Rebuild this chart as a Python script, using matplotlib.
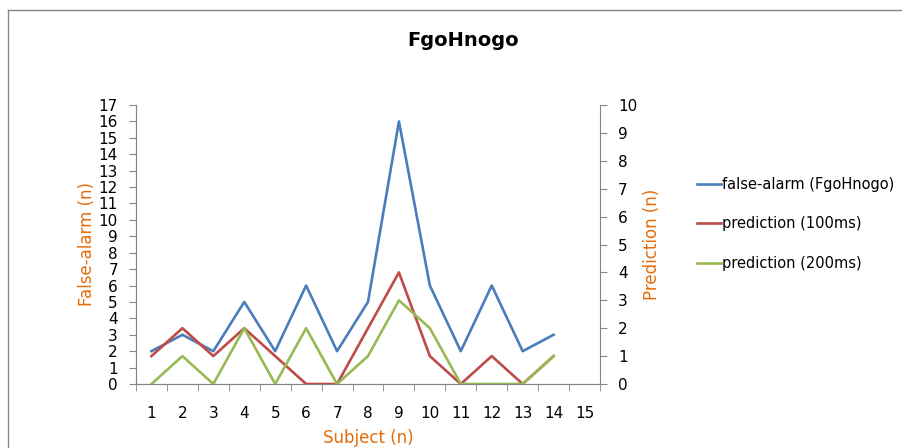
import numpy as np
import matplotlib
matplotlib.use("Agg")
import matplotlib.pyplot as plt
from matplotlib.lines import Line2D

subjects = list(range(1, 16))
false_alarm = [2, 3, 2, 5, 2, 6, 2, 5, 16, 6, 2, 6, 2, 3]
pred_100 = [1, 2, 1, 2, 1, 0, 0, 2, 4, 1, 0, 1, 0, 1]
pred_200 = [0, 1, 0, 2, 0, 2, 0, 1, 3, 2, 0, 0, 0, 1]

title = "FgoHnogo"
labels = ["false-alarm (FgoHnogo)", "prediction (100ms)", "prediction (200ms)"]
colors = ["#4A7EBB", "#BE4B48", "#98B954"]
orange = "#E46C0A"
grey = "#868686"

plt.rcParams['font.family'] = ['DejaVu Sans']

fig = plt.figure(figsize=(9.03, 4.48), dpi=100)
ax = fig.add_axes([136 / 903, 1 - 384 / 448, 464 / 903, 279 / 448])
ax2 = ax.twinx()

x = np.arange(1, len(false_alarm) + 1)
l1, = ax.plot(x, false_alarm, color=colors[0], lw=1.9)
l2, = ax2.plot(x, pred_100, color=colors[1], lw=1.9)
l3, = ax2.plot(x, pred_200, color=colors[2], lw=1.9)

ax.set_xlim(0.5, len(subjects) + 0.5)
ax.set_ylim(0, 17)
ax2.set_ylim(0, 10)
ax.set_yticks(range(0, 18))
ax2.set_yticks(range(0, 11))
ax.set_xticks(subjects)
ax.set_xticks(np.arange(0.5, len(subjects) + 1), minor=True)

ax.tick_params(axis='x', which='major', length=0, pad=16, labelsize=11)
ax.tick_params(axis='x', which='minor', length=5, color=grey)
ax.tick_params(axis='y', length=5, color=grey, labelsize=11, pad=8)
ax2.tick_params(axis='y', length=5, color=grey, labelsize=11, pad=8)

for a in (ax, ax2):
    a.spines['top'].set_visible(False)
    for side in ['left', 'right', 'bottom']:
        a.spines[side].set_color(grey)
ax.spines['right'].set_visible(False)

ax.set_ylabel("False-alarm (n)", color=orange, fontsize=12)
ax2.set_ylabel("Prediction (n)", color=orange, fontsize=12)
ax.set_xlabel("Subject (n)", color=orange, fontsize=12)
ax.yaxis.set_label_coords((96 - 136) / 464, 0.5)
ax2.yaxis.set_label_coords((643 - 136) / 464, 0.5)
ax.xaxis.set_label_coords(0.5, (384 - 429) / 279)

fig.text(463 / 903, 1 - 40 / 448, title, ha='center', va='center',
         fontsize=14, fontweight='bold')

fig.legend([l1, l2, l3], labels, loc='center left',
           bbox_to_anchor=(690 / 903, 0.5), frameon=False, fontsize=10.5,
           handlelength=1.6, handletextpad=0.1, labelspacing=1.7, borderpad=0)

# chart area border
fig.add_artist(Line2D([8 / 903, 8 / 903], [0, 1 - 10 / 448], transform=fig.transFigure, color=grey, lw=1))
fig.add_artist(Line2D([8 / 903, 1], [1 - 10 / 448, 1 - 10 / 448], transform=fig.transFigure, color=grey, lw=1))

fig.savefig("out.png", dpi=100)
